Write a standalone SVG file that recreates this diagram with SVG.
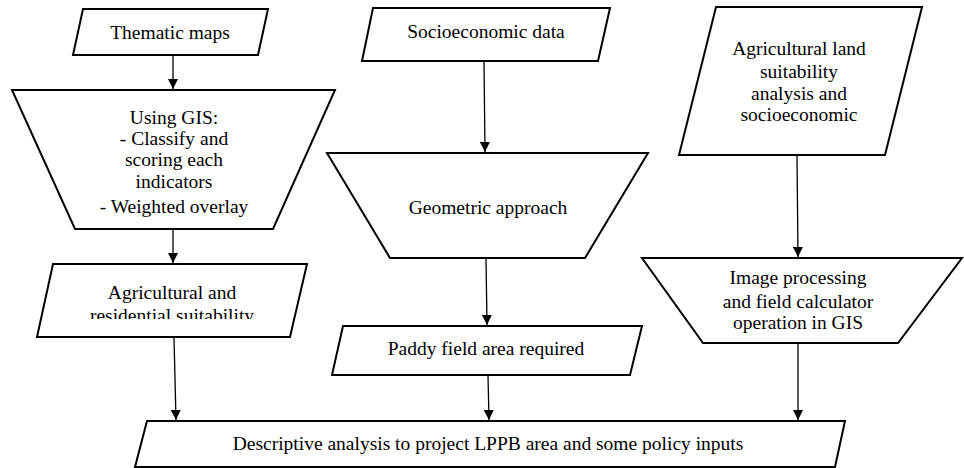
<svg xmlns="http://www.w3.org/2000/svg" width="964" height="468" viewBox="0 0 964 468">
<style>
.s{fill:#fff;stroke:#000;stroke-width:2;stroke-linejoin:miter}
.t{font-family:"Liberation Serif","DejaVu Serif",serif;font-size:19.5px;fill:#000;text-anchor:middle}
.c{stroke:#000;stroke-width:1.3;fill:none}
</style>
<defs>
<marker id="ah" viewBox="0 0 10 10" refX="10" refY="5" markerWidth="10" markerHeight="10" markerUnits="userSpaceOnUse" orient="auto">
<path d="M0,0L10,5L0,10z" fill="#000" stroke="none"/>
</marker>
<clipPath id="cl"><rect x="0" y="0" width="964" height="319"/></clipPath>
</defs>
<rect width="964" height="468" fill="#fff"/>
<g id="thematic">
<polygon class="s" points="83,9 268,9 258,55 73,55"/>
<text class="t" x="170" y="39">Thematic maps</text>
</g>
<g id="gis">
<polygon class="s" points="12,90 335,90 273,229 75,229"/>
<text class="t" x="174" y="124">Using GIS:</text>
<text class="t" x="174" y="145">- Classify and</text>
<text class="t" x="174" y="166">scoring each</text>
<text class="t" x="174" y="188">indicators</text>
<text class="t" x="174" y="213">- Weighted overlay</text>
</g>
<g id="agri-res">
<polygon class="s" points="53,264 307,264 290,337 37,337"/>
<g clip-path="url(#cl)">
<text class="t" x="172" y="299">Agricultural and</text>
<text class="t" x="172" y="322">residential suitability</text>
</g>
</g>
<g id="socio">
<polygon class="s" points="373,8 610,8 598,61 362,61"/>
<text class="t" x="486" y="38">Socioeconomic data</text>
</g>
<g id="geometric">
<polygon class="s" points="327,153 648,153 585,258 390,258"/>
<text class="t" x="488" y="214">Geometric approach</text>
</g>
<g id="paddy">
<polygon class="s" points="343,326 642,326 630,375 332,375"/>
<text class="t" x="486" y="355">Paddy field area required</text>
</g>
<g id="land-suit">
<polygon class="s" points="716,7 922,7 885,155 679,155"/>
<text class="t" x="799" y="55">Agricultural land</text>
<text class="t" x="799" y="78">suitability</text>
<text class="t" x="799" y="100">analysis and</text>
<text class="t" x="799" y="121">socioeconomic</text>
</g>
<g id="image-proc">
<polygon class="s" points="642,258 962,258 898,343 703,343"/>
<text class="t" x="798" y="284">Image processing</text>
<text class="t" x="798" y="308">and field calculator</text>
<text class="t" x="798" y="329">operation in GIS</text>
</g>
<g id="descriptive">
<polygon class="s" points="147,421 845,421 835,467 135,467"/>
<text class="t" x="488" y="450">Descriptive analysis to project LPPB area and some policy inputs</text>
</g>
<g id="connectors">
<line class="c" marker-end="url(#ah)" x1="173" y1="56" x2="173" y2="89"/>
<line class="c" marker-end="url(#ah)" x1="173" y1="230" x2="173" y2="263"/>
<line class="c" marker-end="url(#ah)" x1="174" y1="338" x2="176" y2="420"/>
<line class="c" marker-end="url(#ah)" x1="484" y1="62" x2="485" y2="152"/>
<line class="c" marker-end="url(#ah)" x1="486" y1="259" x2="487" y2="325"/>
<line class="c" marker-end="url(#ah)" x1="488" y1="376" x2="489" y2="420"/>
<line class="c" marker-end="url(#ah)" x1="797" y1="156" x2="798" y2="257"/>
<line class="c" marker-end="url(#ah)" x1="798" y1="344" x2="798" y2="420"/>
</g>
</svg>
